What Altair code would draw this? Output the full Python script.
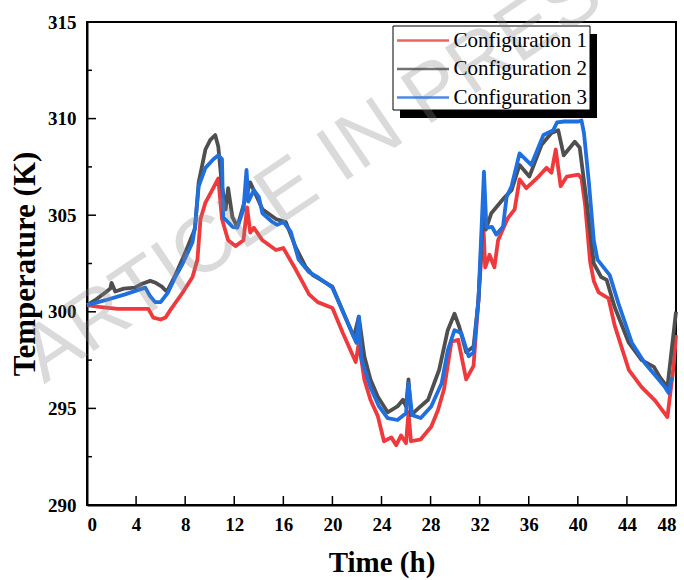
import altair as alt
import pandas as pd

# ---------------- data ----------------
names = ["Configuration 1", "Configuration 2", "Configuration 3"]
colors = ["#F0393C", "#4F4F4F", "#1F6FDF"]

t1 = [0, 1, 2.5, 4, 5.0, 5.4, 6.0, 6.4, 6.8, 7.8, 8.6, 9.0, 9.25, 9.65, 10.2, 10.7,
      11.0, 11.5, 12.1, 12.75, 13.05, 13.3, 13.6, 14.3, 15.4, 16.0, 17.0, 17.6, 18.1,
      18.8, 20.0, 20.85, 21.9, 22.15, 22.6, 23.1, 23.7, 24.2, 24.8, 25.2, 25.6, 26.0,
      26.2, 26.4, 27.2, 28.05, 28.6, 29.1, 29.7, 30.25, 30.9, 31.5, 31.9, 32.3, 32.45,
      32.8, 33.2, 33.5, 34.3, 34.85, 35.25, 35.8, 36.8, 37.45, 37.85, 38.2, 38.6, 39.1,
      40.05, 40.3, 40.6, 41.0, 41.3, 41.7, 42.5, 43.0, 44.15, 45.2, 46.3, 47.3, 47.8, 48]
T1 = [300.35, 300.25, 300.15, 300.15, 300.15, 299.7, 299.6, 299.7, 300.1, 301.0, 301.8,
      302.7, 304.8, 305.65, 306.3, 306.9, 304.8, 303.7, 303.4, 303.7, 305.4, 304.1, 304.35,
      303.7, 303.2, 303.3, 302.2, 301.5, 300.9, 300.5, 300.2, 298.9, 297.4, 298.4, 296.5,
      295.45, 294.6, 293.3, 293.5, 293.1, 293.6, 293.2, 294.8, 293.3, 293.4, 294.05, 294.9,
      296.0, 298.45, 298.55, 296.5, 297.2, 300.6, 304.5, 302.3, 302.95, 302.3, 303.7,
      304.85, 305.3, 306.85, 306.4, 307.0, 307.45, 307.2, 308.4, 306.5, 307.0, 307.1,
      306.9, 305.5, 302.6, 301.6, 301.0, 300.7, 299.3, 297.0, 296.1, 295.4, 294.55,
      297.15, 298.8]

t2 = [0, 0.65, 1.5, 1.9, 2.0, 2.3, 3.0, 3.9, 4.5, 5.15, 5.6, 6.1, 6.4, 6.6, 7.2, 8.0,
      8.8, 9.1, 9.65, 10.05, 10.45, 10.7, 11.0, 11.3, 11.5, 11.85, 12.25, 12.7, 13.3,
      14.3, 15.4, 16.2, 17.0, 17.8, 18.4, 20.0, 21.75, 22.15, 22.6, 23.1, 23.7, 24.5,
      25.3, 25.75, 26.0, 26.2, 26.4, 27.0, 27.8, 28.7, 29.4, 29.95, 30.35, 30.9, 31.5,
      31.9, 32.35, 32.5, 32.95, 34.0, 34.6, 35.25, 36.05, 37.05, 37.85, 38.4, 38.85,
      39.75, 40.15, 40.7, 41.3, 41.9, 42.35, 43.0, 44.15, 45.2, 46.2, 46.7, 47.3, 48]
T2 = [300.35, 300.6, 301.0, 301.2, 301.5, 301.05, 301.2, 301.25, 301.45, 301.6, 301.5,
      301.3, 301.1, 301.15, 301.9, 303.05, 304.3, 306.7, 308.4, 308.9, 309.15, 308.55,
      306.5, 305.3, 306.4, 304.9, 304.4, 305.4, 306.7, 305.3, 304.8, 304.65, 303.35,
      302.35, 301.9, 301.3, 298.7, 299.75, 297.7, 296.5, 295.6, 294.8, 295.1, 295.45,
      295.1, 296.5, 294.65, 295.0, 295.45, 297.0, 299.05, 299.9, 299.2, 297.9, 298.2,
      300.6, 306.0, 304.25, 305.1, 305.9, 306.3, 307.6, 307.0, 308.65, 309.25, 309.4,
      308.1, 308.8, 308.5, 305.8, 302.5, 301.8, 301.65, 300.25, 298.4, 297.5, 297.15,
      296.6, 296.1, 300.0]

t3 = [0, 1.5, 3.1, 4.75, 5.15, 5.55, 6.0, 6.6, 7.2, 7.8, 8.6, 8.8, 9.1, 9.65, 10.3, 10.7,
      11.0, 11.1, 11.85, 12.25, 12.75, 13.0, 13.15, 13.6, 14.0, 14.3, 15.1, 15.5, 16.0,
      16.6, 17.25, 18.1, 18.9, 20.0, 21.95, 22.15, 22.35, 23.1, 23.8, 24.5, 25.3, 26.0,
      26.2, 26.5, 27.2, 28.05, 28.9, 29.4, 29.95, 30.5, 31.1, 31.5, 31.9, 32.35, 32.55,
      33.0, 33.35, 33.9, 34.2, 34.6, 35.25, 36.2, 37.2, 38.0, 38.3, 38.9, 40.05, 40.3,
      40.5, 40.9, 41.3, 41.6, 42.6, 43.3, 44.4, 45.45, 46.45, 47.1, 47.4, 47.65]
T3 = [300.35, 300.6, 300.9, 301.25, 300.8, 300.5, 300.5, 301.0, 301.8, 302.5, 303.6,
      304.4, 306.5, 307.45, 307.9, 308.1, 307.9, 304.9, 304.4, 304.35, 305.3, 307.35,
      305.7, 306.3, 305.95, 305.1, 304.65, 304.5, 304.65, 304.15, 302.7, 302.05, 301.75,
      301.25, 298.4, 299.75, 297.6, 296.1, 295.1, 294.5, 294.4, 294.75, 296.3, 294.65,
      294.5, 295.1, 296.3, 298.0, 299.05, 298.9, 297.7, 297.9, 300.6, 307.25, 304.35,
      304.4, 304.0, 304.4, 305.95, 306.5, 308.2, 307.6, 309.15, 309.4, 309.8, 309.85,
      309.85, 309.9, 309.25, 306.7, 303.7, 302.7, 301.9, 300.45, 298.4, 297.35, 296.6,
      296.1, 295.8, 296.6]

x_major = [0, 4, 8, 12, 16, 20, 24, 28, 32, 36, 40, 44, 48]
x_all = list(range(0, 49, 2))
y_major = [290, 295, 300, 305, 310, 315]
y_minor = [292.5, 297.5, 302.5, 307.5, 312.5]
watermark_text = "ARTICLE IN PRESS"

# ---------------- tables ----------------
rows = []
for name, ts, vs in zip(names, [t1, t2, t3], [T1, T2, T3]):
    for a, b in zip(ts, vs):
        rows.append({"t": a, "T": b, "series": name})
df = pd.DataFrame(rows)

W, H = 589, 483
SERIF = "Liberation Serif"

xs = alt.Scale(domain=[0, 48], nice=False, zero=False)
ys = alt.Scale(domain=[290, 315], nice=False, zero=False)

lines = alt.Chart(df).mark_line(strokeWidth=3.8, strokeJoin="round").encode(
    x=alt.X("t:Q", scale=xs, axis=alt.Axis(
        values=x_all, title="Time (h)",
        labelExpr="datum.value % 4 == 0 ? datum.label : ''",
        tickSize=4, tickWidth=1.5, tickColor="black",
        tickOpacity={"condition": {"test": "datum.value % 4 == 0", "value": 0}, "value": 1},
        labelPadding=6, titlePadding=14, grid=False)),
    y=alt.Y("T:Q", scale=ys, axis=alt.Axis(
        values=y_major, title="Temperature (K)", ticks=False,
        labelPadding=11, titlePadding=6, grid=False)),
    color=alt.Color("series:N", scale=alt.Scale(domain=names, range=colors),
                    legend=alt.Legend(
                        orient="none", legendX=306, legendY=4, title=None,
                        symbolType="M-13,0H13", symbolSize=16, symbolStrokeWidth=2.5,
                        symbolOffset=15.5, labelOffset=20, symbolOpacity=0.8,
                        labelFont=SERIF, labelFontSize=21, labelColor="black",
                        padding=4, rowPadding=6.5)),
    order=alt.Order("t:Q"),
)

xmaj_df = pd.DataFrame({"t": x_major})
ymaj_df = pd.DataFrame({"T": y_major})
ymin_df = pd.DataFrame({"T": y_minor})

xticks = alt.Chart(xmaj_df).mark_rule(color="black", strokeWidth=1.5).encode(
    x=alt.X("t:Q", scale=xs), y=alt.value(H), y2=alt.value(H - 9))
yticks = alt.Chart(ymaj_df).mark_rule(color="black", strokeWidth=1.5).encode(
    y=alt.Y("T:Q", scale=ys), x=alt.value(0), x2=alt.value(9))
yminor = alt.Chart(ymin_df).mark_rule(color="black", strokeWidth=1.5).encode(
    y=alt.Y("T:Q", scale=ys), x=alt.value(0), x2=alt.value(5))

one = pd.DataFrame({"k": [0]})
shadow = alt.Chart(one).mark_rect(color="black").encode(
    x=alt.value(313), x2=alt.value(510), y=alt.value(12), y2=alt.value(96))
legend_box = alt.Chart(one).mark_rect(fill="white", stroke="black", strokeWidth=1).encode(
    x=alt.value(306), x2=alt.value(503), y=alt.value(4), y2=alt.value(88))

watermark = alt.Chart(one).mark_text(
    text=watermark_text, angle=326, fontSize=80, font="Liberation Sans",
    color="#888888", opacity=0.3, align="center", baseline="middle").encode(
    x=alt.value(247), y=alt.value(138))

chart = alt.layer(lines, xticks, yticks, yminor, shadow, legend_box, watermark).properties(
    width=W, height=H,
    autosize=alt.AutoSizeParams(type="none"),
    padding={"left": 87, "top": 22, "right": 8, "bottom": 75},
).configure_view(stroke="black", strokeWidth=2).configure_axis(
    domainColor="black", domainWidth=2,
    labelFont=SERIF, labelFontWeight="bold", labelFontSize=19, labelColor="black",
    titleFont=SERIF, titleFontWeight="bold", titleFontSize=29, titleColor="black",
).configure_axisY(titleFontSize=31)

chart.save("out.html", embed_options={"renderer": "svg", "actions": False})
